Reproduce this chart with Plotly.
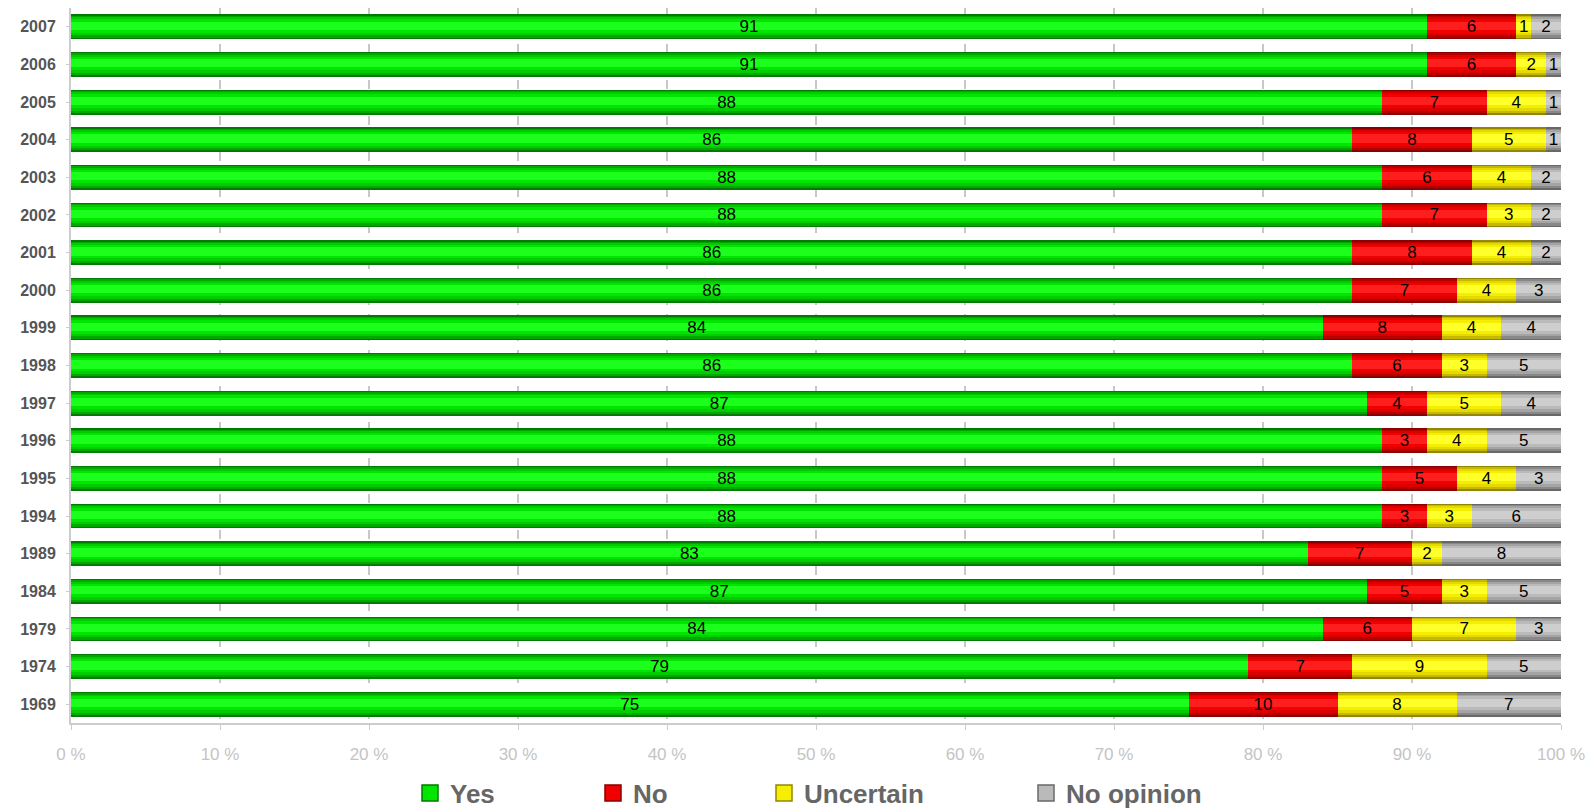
import plotly.graph_objects as go

years = ["2007", "2006", "2005", "2004", "2003", "2002", "2001", "2000", "1999", "1998",
         "1997", "1996", "1995", "1994", "1989", "1984", "1979", "1974", "1969"]
yes = [91, 91, 88, 86, 88, 88, 86, 86, 84, 86, 87, 88, 88, 88, 83, 87, 84, 79, 75]
no = [6, 6, 7, 8, 6, 7, 8, 7, 8, 6, 4, 3, 5, 3, 7, 5, 6, 7, 10]
uncertain = [1, 2, 4, 5, 4, 3, 4, 4, 4, 3, 5, 4, 4, 3, 2, 3, 7, 9, 8]
no_opinion = [2, 1, 1, 1, 2, 2, 2, 3, 4, 5, 4, 5, 3, 6, 8, 5, 3, 5, 7]

# name, values, shades from edge to highlight, legend x (px)
series = [
    ("Yes", yes, ("#007a00", "#00a800", "#00cc00", "#00e600", "#1cff1c"), 410),
    ("No", no, ("#880000", "#b60000", "#da0000", "#f00000", "#ff1e1e"), 593),
    ("Uncertain", uncertain, ("#948600", "#c4b800", "#e4da00", "#f6ee00", "#ffff2a"), 764),
    ("No opinion", no_opinion, ("#686868", "#888888", "#a4a4a4", "#bababa", "#cecece"), 1026),
]

# (axis, bar width, highlight shift upward)
layers = [("y", 0.66, 0.0), ("y2", 0.58, 0.005), ("y3", 0.48, 0.015), ("y4", 0.36, 0.025), ("y5", 0.22, 0.03)]

fig = go.Figure()
for k, (yax, w, shift) in enumerate(layers):
    for name, vals, cols, lx in series:
        fig.add_trace(go.Bar(
            y=years, x=vals, name=name, orientation="h", yaxis=yax, width=w,
            offset=-w / 2 + shift,
            marker=dict(color=cols[k], line=dict(width=0)),
            showlegend=False, hoverinfo="skip",
        ))
# label layer
for name, vals, cols, lx in series:
    fig.add_trace(go.Bar(
        y=years, x=vals, name=name, orientation="h", yaxis="y6", width=0.66,
        marker=dict(color="rgba(0,0,0,0)", line=dict(width=0)),
        text=vals, textposition="inside", insidetextanchor="middle", textangle=0,
        textfont=dict(color="#000000", size=17, family="Liberation Sans"),
        constraintext="none", showlegend=False,
    ))
# legend entries (square swatches)
for i, (name, vals, cols, lx) in enumerate(series):
    fig.add_trace(go.Scatter(
        x=[None], y=[None], mode="markers", name=name,
        marker=dict(symbol="square", size=17, color=cols[3], line=dict(color=cols[0], width=1.5)),
        legend=("legend" if i == 0 else f"legend{i+1}"), showlegend=True,
    ))

legend_font = dict(size=26, color="#666666", family="Liberation Sans", weight="bold")
legends = {}
for i, (name, vals, cols, lx) in enumerate(series):
    key = "legend" if i == 0 else f"legend{i+1}"
    legends[key] = dict(xref="container", yref="container", x=lx / 1592, y=(808 - 793) / 808,
                        xanchor="left", yanchor="middle", orientation="h",
                        font=legend_font, itemwidth=30, bgcolor="rgba(0,0,0,0)")

ycommon = dict(type="category", categoryorder="array", categoryarray=years[::-1])
overlays = {f"yaxis{n}": dict(**ycommon, overlaying="y", matches="y", visible=False) for n in range(2, 7)}
fig.update_layout(
    barmode="stack",
    width=1592, height=808,
    margin=dict(l=71, r=31, t=8, b=85, autoexpand=False),
    paper_bgcolor="white", plot_bgcolor="white",
    font=dict(family="Liberation Sans", color="#555555"),
    uniformtext=dict(minsize=17, mode="show"),
    showlegend=True,
    xaxis=dict(range=[0, 100], dtick=10, ticksuffix=" %", showgrid=True,
               gridcolor="#c8c8c8", griddash="dash", gridwidth=1.5,
               tickfont=dict(size=17, color="#c4c4c4"),
               showline=True, linecolor="#cccccc", linewidth=2,
               ticks="outside", ticklen=5, tickcolor="#cccccc",
               ticklabelstandoff=10,
               zeroline=False, fixedrange=True, automargin=False),
    yaxis=dict(**ycommon,
               tickfont=dict(size=16, color="#555555", family="Liberation Sans", weight="bold"),
               showline=True, linecolor="#cccccc", linewidth=2,
               ticks="outside", ticklen=3, tickcolor="#cccccc",
               ticklabelstandoff=7,
               showgrid=False, automargin=False),
    **overlays,
    **legends,
)

fig.write_html("out.html", config={"displayModeBar": False},
               post_script="document.body.style.margin='0';document.body.style.overflow='hidden';")
